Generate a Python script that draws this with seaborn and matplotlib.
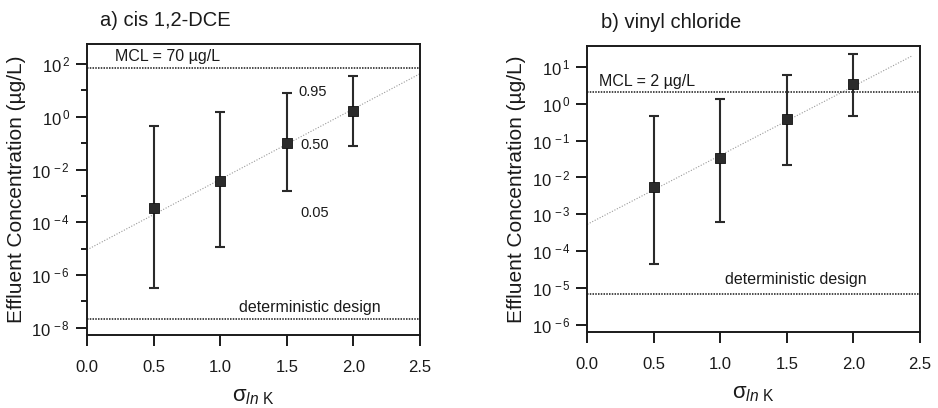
import numpy as np
import pandas as pd
import matplotlib
matplotlib.use("Agg")
import matplotlib.pyplot as plt
import seaborn as sns
from matplotlib.ticker import FixedLocator, FuncFormatter

# sigma_lnK values
sigma = [0.5, 1.0, 1.5, 2.0]

# cis 1,2-DCE effluent concentration percentiles (ug/L)
dce_p50 = [3.5e-4, 3.7e-3, 0.10, 1.6]
dce_p95 = [0.46, 1.5, 7.9, 36.0]
dce_p05 = [3.2e-7, 1.15e-5, 1.5e-3, 0.078]
dce_trend_x = [0.0, 2.5]
dce_trend_y = [9.1e-6, 43.0]
dce_mcl = 70.0
dce_det = 2.1e-8

# vinyl chloride effluent concentration percentiles (ug/L)
vc_p50 = [5.4e-3, 0.033, 0.38, 3.3]
vc_p95 = [0.47, 1.33, 5.9, 22.0]
vc_p05 = [4.6e-5, 6.3e-4, 0.022, 0.45]
vc_trend_x = [0.0, 2.44]
vc_trend_y = [5.4e-4, 19.5]
vc_mcl = 2.0
vc_det = 7.0e-6

sns.set_theme(style="ticks")
plt.rcParams["font.family"] = ["Liberation Sans", "DejaVu Sans"]
plt.rcParams["mathtext.fontset"] = "custom"
plt.rcParams["mathtext.rm"] = "Liberation Sans"
plt.rcParams["mathtext.it"] = "Liberation Sans:italic"
plt.rcParams["mathtext.bf"] = "Liberation Sans:bold"

fig = plt.figure(figsize=(9.38, 4.08), dpi=100)
ax1 = fig.add_axes([0.0928, 0.1789, 0.4478 - 0.0928, 0.8922 - 0.1789])
ax2 = fig.add_axes([0.6261, 0.1855, 0.9808 - 0.6261, 0.8865 - 0.1855])

ink = "#1a1a1a"


def draw_panel(ax, p50, p95, p05, tx, ty, mcl, det, ylim, label_every):
    df = pd.DataFrame({"sigma": sigma, "p50": p50})
    trend = pd.DataFrame({"sigma": tx, "conc": ty})
    ax.set_yscale("log")
    sns.lineplot(data=trend, x="sigma", y="conc", ax=ax, color="#9a9a9a",
                 lw=0.8, linestyle=(0, (1, 1.5)), zorder=1)
    lo = np.array(p50) - np.array(p05)
    hi = np.array(p95) - np.array(p50)
    ax.errorbar(sigma, p50, yerr=[lo, hi], fmt="none", ecolor="#2a2a2a",
                elinewidth=1.5, capsize=3.7, capthick=1.5, zorder=2)
    sns.scatterplot(data=df, x="sigma", y="p50", ax=ax, marker="s", s=52,
                    color="#2b2b2b", edgecolor="#111111", linewidth=0.6,
                    zorder=3)
    ax.axhline(mcl, color=ink, lw=1.1, linestyle=(0, (1, 0.8)), zorder=1)
    ax.axhline(det, color=ink, lw=1.1, linestyle=(0, (1, 0.8)), zorder=1)
    ax.set_xlim(0, 2.5)
    ax.set_ylim(*ylim)
    ax.set_xticks([0.0, 0.5, 1.0, 1.5, 2.0, 2.5])
    ax.set_xticklabels(["0.0", "0.5", "1.0", "1.5", "2.0", "2.5"])
    lo_e = int(np.ceil(np.log10(ylim[0])))
    hi_e = int(np.floor(np.log10(ylim[1])))
    decs = list(range(lo_e, hi_e + 1))
    major = [10.0 ** d for d in decs if d % label_every == 0]
    minor = [10.0 ** d for d in decs if d % label_every != 0]
    ax.yaxis.set_major_locator(FixedLocator(major))
    ax.yaxis.set_minor_locator(FixedLocator(minor))
    ax.yaxis.set_major_formatter(
        FuncFormatter(lambda v, pos: r"$10^{\,%d}$" % int(round(np.log10(v)))))
    ax.yaxis.set_minor_formatter(FuncFormatter(lambda v, pos: ""))
    for s in ax.spines.values():
        s.set_linewidth(1.4)
        s.set_color(ink)
    ax.tick_params(axis="both", which="major", direction="out", length=8,
                   width=1.4, color=ink, labelsize=12, labelcolor=ink)
    ax.tick_params(axis="y", which="minor", direction="out", length=4.5,
                   width=1.4, color=ink)
    ax.tick_params(axis="x", pad=10)
    ax.tick_params(axis="y", pad=4)
    ax.set_xlabel(r"$\mathrm{σ}_{\mathit{ln}\ \mathrm{K}}$", fontsize=16,
                  color=ink, labelpad=8)
    ax.set_ylabel("Effluent Concentration (µg/L)", fontsize=15, color=ink,
                  labelpad=4)


draw_panel(ax1, dce_p50, dce_p95, dce_p05, dce_trend_x, dce_trend_y,
           dce_mcl, dce_det, (10 ** -8.27, 10 ** 2.76), 2)
draw_panel(ax2, vc_p50, vc_p95, vc_p05, vc_trend_x, vc_trend_y,
           vc_mcl, vc_det, (10 ** -6.19, 10 ** 1.55), 1)

# percentile and reference-level annotations
tfs = 11.5
ax1.text(0.21, 10 ** 2.28, "MCL = 70 µg/L", fontsize=tfs, color=ink,
         va="center", ha="left")
ax1.text(1.585, 10 ** 0.95, "0.95", fontsize=10.5, color=ink, va="center")
ax1.text(1.6, 10 ** -1.06, "0.50", fontsize=10.5, color=ink, va="center")
ax1.text(1.6, 10 ** -3.64, "0.05", fontsize=10.5, color=ink, va="center")
ax1.text(1.14, 10 ** -7.24, "deterministic design", fontsize=tfs, color=ink,
         va="center", ha="left")

ax2.text(0.088, 10 ** 0.61, "MCL = 2 µg/L", fontsize=tfs, color=ink,
         va="center", ha="left")
ax2.text(1.035, 10 ** -4.75, "deterministic design", fontsize=tfs, color=ink,
         va="center", ha="left")

fig.text(100 / 938, 1 - 20 / 408, "a) cis 1,2-DCE", fontsize=14.5, color=ink,
         ha="left", va="center")
fig.text(601 / 938, 1 - 22 / 408, "b) vinyl chloride", fontsize=14.5,
         color=ink, ha="left", va="center")

fig.savefig("out.png", dpi=100, facecolor="white")
